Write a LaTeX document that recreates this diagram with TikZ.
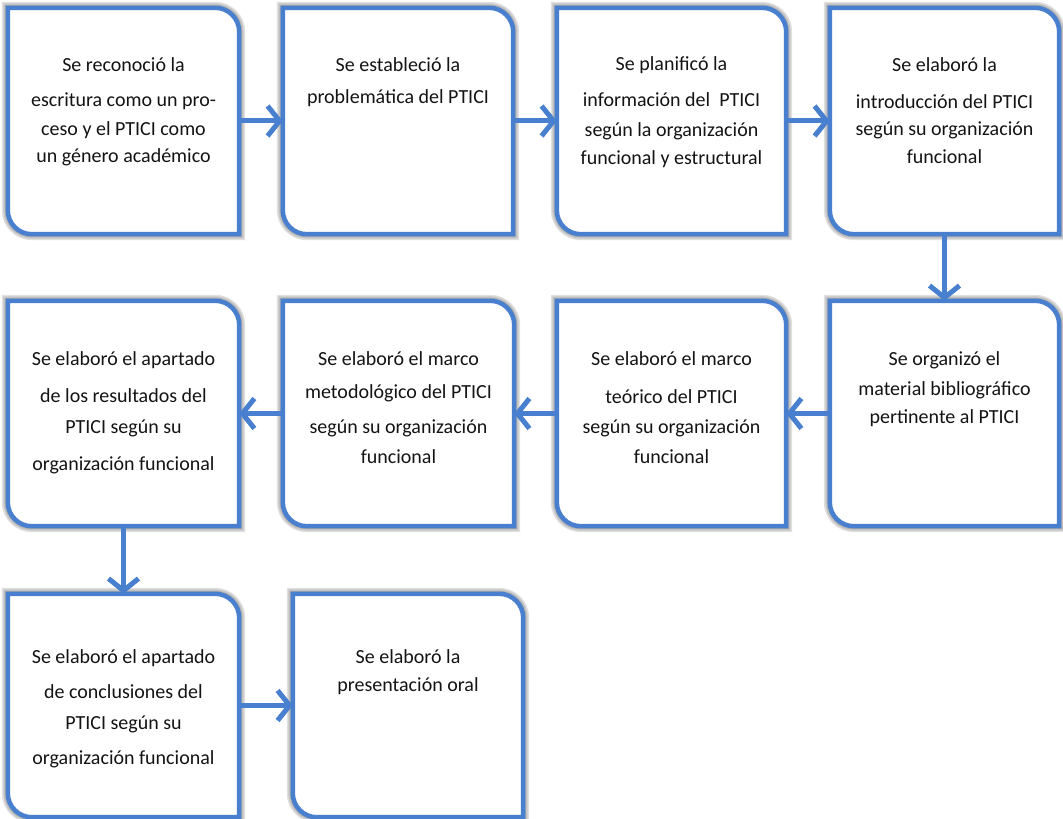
\documentclass[tikz,border=0pt]{standalone}
\usepackage{fontspec}
\setmainfont{Carlito}
\usetikzlibrary{arrows.meta}
\definecolor{boxblue}{RGB}{72,127,207}
\definecolor{txtc}{RGB}{20,20,20}
\tikzset{
  boxnode/.style={rectangle, inner sep=0pt, draw=none},
  boxline/.style={draw=boxblue, line width=4.5pt, fill=white, line join=miter},
  shade1/.style={draw=black, opacity=0.12},
  txt/.style={anchor=base, inner sep=0pt, text=txtc, font=\fontsize{20}{24}\selectfont},
  flow/.style={draw=boxblue, line width=5pt, -{Straight Barb[length=12pt,width=30pt,line join=miter]}},
}
\newcommand\boxpath[1]{(#1.north west) -- ([xshift=-24pt]#1.north east) arc[start angle=90,end angle=0,radius=24pt] -- (#1.south east) -- ([xshift=24pt]#1.south west) arc[start angle=270,end angle=180,radius=24pt] -- cycle}
\newcommand\drawbox[1]{%
  \foreach \w in {12,9,6,3}{\draw[shade1, line width=\w pt, shift={(6pt,-6pt)}] \boxpath{#1};}
  \draw[boxline] \boxpath{#1};}
\begin{document}
\begin{tikzpicture}[x=1pt,y=1pt]
\useasboundingbox (0,0) rectangle (1063,819);
% boxes
\node[boxnode, minimum width=231pt, minimum height=226pt] (b1) at (123.5,698) {};
\node[boxnode, minimum width=230pt, minimum height=226pt] (b2) at (398,698) {};
\node[boxnode, minimum width=229pt, minimum height=226pt] (b3) at (671.5,698) {};
\node[boxnode, minimum width=229pt, minimum height=226pt] (b4) at (944.5,698) {};
\node[boxnode, minimum width=229pt, minimum height=225pt] (b5) at (944.5,405.5) {};
\node[boxnode, minimum width=229pt, minimum height=225pt] (b6) at (671.5,405.5) {};
\node[boxnode, minimum width=231pt, minimum height=225pt] (b7) at (398.5,405.5) {};
\node[boxnode, minimum width=231pt, minimum height=225pt] (b8) at (123.5,405.5) {};
\node[boxnode, minimum width=231pt, minimum height=223pt] (b9) at (123.5,113.5) {};
\node[boxnode, minimum width=230pt, minimum height=223pt] (b10) at (408,113.5) {};
\drawbox{b1}\drawbox{b2}\drawbox{b3}\drawbox{b4}\drawbox{b5}
\drawbox{b6}\drawbox{b7}\drawbox{b8}\drawbox{b9}\drawbox{b10}
% arrows
\draw[flow] (b1.east) -- (b2.west);
\draw[flow] (b2.east) -- (b3.west);
\draw[flow] (b3.east) -- (b4.west);
\draw[flow] (b4.south) -- (b5.north);
\draw[flow] (b5.west) -- (b6.east);
\draw[flow] (b6.west) -- (b7.east);
\draw[flow] (b7.west) -- (b8.east);
\draw[flow] (b8.south) -- (b9.north);
\draw[flow] (b9.east) -- (b10.west);
% texts
\node[txt] (t1a) at (123.5,747) {Se reconoció la};
\node[txt] (t1b) at (123.5,712) {escritura como un pro-};
\node[txt] (t1c) at (123.5,683) {ceso y el PTICI como};
\node[txt] (t1d) at (123.5,656) {un género académico};
\node[txt] (t2a) at (398,747) {Se estableció la};
\node[txt] (t2b) at (398,715) {problemática del PTICI};
\node[txt] (t3a) at (671.5,748) {Se planificó la};
\node[txt] (t3b) at (671.5,712) {información del\ \ PTICI};
\node[txt] (t3c) at (671.5,682) {según la organización};
\node[txt] (t3d) at (671.5,654) {funcional y estructural};
\node[txt] (t4a) at (944.5,747) {Se elaboró la};
\node[txt] (t4b) at (944.5,710) {introducción del PTICI};
\node[txt] (t4c) at (944.5,683) {según su organización};
\node[txt] (t4d) at (944.5,655) {funcional};
\node[txt] (t5a) at (944.5,453) {Se organizó el};
\node[txt] (t5b) at (944.5,423) {material bibliográfico};
\node[txt] (t5c) at (944.5,395) {pertinente al PTICI};
\node[txt] (t6a) at (671.5,453) {Se elaboró el marco};
\node[txt] (t6b) at (671.5,415) {teórico del PTICI};
\node[txt] (t6c) at (671.5,385) {según su organización};
\node[txt] (t6d) at (671.5,355) {funcional};
\node[txt] (t7a) at (398.5,453) {Se elaboró el marco};
\node[txt] (t7b) at (398.5,420) {metodológico del PTICI};
\node[txt] (t7c) at (398.5,385) {según su organización};
\node[txt] (t7d) at (398.5,355) {funcional};
\node[txt] (t8a) at (123.5,453) {Se elaboró el apartado};
\node[txt] (t8b) at (123.5,416) {de los resultados del};
\node[txt] (t8c) at (123.5,385) {PTICI según su};
\node[txt] (t8d) at (123.5,348) {organización funcional};
\node[txt] (t9a) at (123.5,155) {Se elaboró el apartado};
\node[txt] (t9b) at (123.5,120) {de conclusiones del};
\node[txt] (t9c) at (123.5,89) {PTICI según su};
\node[txt] (t9d) at (123.5,54) {organización funcional};
\node[txt] (t10a) at (408,155) {Se elaboró la};
\node[txt] (t10b) at (408,127) {presentación oral};
\end{tikzpicture}
\end{document}
